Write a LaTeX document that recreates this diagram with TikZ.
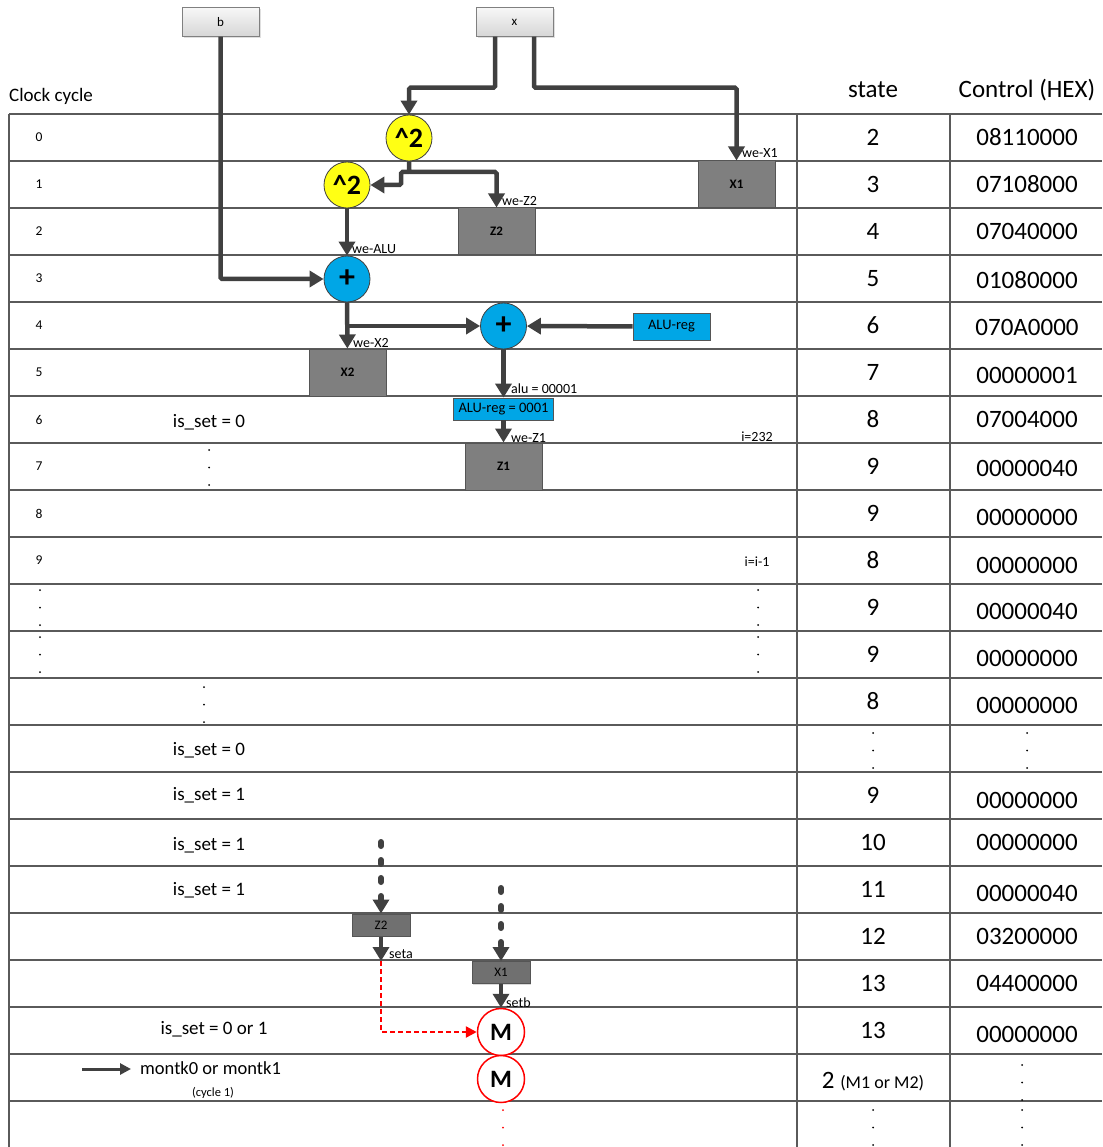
\documentclass[tikz,border=0pt]{standalone}
\usepackage{fontspec}
\setmainfont{Carlito}
\usetikzlibrary{arrows.meta,shadows}

\definecolor{busgray}{HTML}{404040}
\definecolor{gridgray}{HTML}{5A5A5A}
\definecolor{reggray}{HTML}{7F7F7F}
\definecolor{regedge}{HTML}{555555}
\definecolor{alublue}{HTML}{00A6E6}
\definecolor{sqyellow}{HTML}{FFFF14}

\tikzset{
  grid/.style={draw=gridgray,line width=1.3pt},
  bus/.style={draw=busgray,line width=4.5pt,rounded corners=1.5pt,
    -{Triangle[length=14pt,width=16pt]}},
  feed/.style={draw=busgray,line width=6pt,line cap=round,dash pattern=on 4pt off 14pt,
    -{Triangle[length=14pt,width=16pt]}},
  reddash/.style={draw=red,line width=2.5pt,dash pattern=on 5pt off 3pt,
    -{Triangle[length=11pt,width=11pt]}},
  thinbus/.style={draw=busgray,line width=3pt,-{Triangle[length=11pt,width=11pt]}},
  big/.style={inner sep=0pt,font=\fontsize{25}{28}\selectfont},
  mid/.style={inner sep=0pt,font=\fontsize{19}{22}\selectfont},
  cyc/.style={inner sep=0pt,font=\fontsize{13.5}{15}\selectfont},
  lbl/.style={inner sep=0pt,anchor=west,font=\fontsize{14}{16}\selectfont},
  sq/.style={circle,minimum size=46pt,inner sep=0pt,draw=busgray,line width=0.8pt,
    fill=sqyellow,font=\bfseries\fontsize{28}{30}\selectfont},
  add/.style={circle,minimum size=46pt,inner sep=0pt,draw=busgray,line width=0.8pt,
    fill=alublue,font=\bfseries\fontsize{32}{32}\selectfont},
  mop/.style={circle,minimum size=47pt,inner sep=0pt,draw=red,line width=1.5pt,
    fill=white,font=\bfseries\fontsize{25}{26}\selectfont},
  reg/.style={draw=regedge,fill=reggray,line width=1pt,minimum width=77pt,minimum height=47pt,
    inner sep=0pt,font=\bfseries\fontsize{13}{14}\selectfont},
  smallreg/.style={draw=regedge,fill=reggray!88!black,line width=1pt,minimum width=58pt,
    minimum height=22pt,inner sep=0pt,font=\fontsize{13}{14}\selectfont,
    drop shadow={shadow xshift=1pt,shadow yshift=-1pt,opacity=.3}},
  inbox/.style={draw=gray,top color=gray!6,bottom color=gray!32,minimum width=77pt,
    minimum height=29pt,inner sep=0pt,font=\fontsize{13}{14}\selectfont,
    drop shadow={shadow xshift=1.5pt,shadow yshift=-1.5pt,opacity=.25}},
  alureg/.style={draw=regedge,fill=alublue,line width=0.8pt,inner sep=0pt,
    font=\fontsize{14.5}{16}\selectfont},
}
% three dots stacked downwards from (x,y)
\newcommand\dotcol[3][black]{\foreach \dy in {0,17.5,35} \fill[#1] (#2,{#3+\dy}) circle (1pt);}

\begin{document}
\begin{tikzpicture}[x=1pt,y=-1pt]
\useasboundingbox (0,0) rectangle (1102,1147);

% rows and columns
\foreach \k in {0,...,21}
  \draw[grid] (9,{114+47*\k}) -- (1102,{114+47*\k});
\draw[grid] (9,114) -- (9,1147);
\draw[grid] (797,114) -- (797,1147);
\draw[grid] (950,114) -- (950,1147);

\node[mid,anchor=west] (hclock) at (9,96) {Clock cycle};
\node[big] (hstate) at (873,90) {state};
\node[big] (hctrl) at (1027,90) {Control (HEX)};

\foreach \k in {0,...,9}
  \node[cyc] (cc\k) at (39,{137.5+47*\k}) {\k};

\foreach \k/\s in {0/2,1/3,2/4,3/5,4/6,5/7,6/8,7/9,8/9,9/8,10/9,11/9,12/8,14/9,15/10,16/11,17/12,18/13,19/13}
  \node[big] (st\k) at (873,{137.5+47*\k}) {\s};
\foreach \k/\c/\d in {0/08110000/0,1/07108000/0,2/07040000/0,3/01080000/2,4/070A0000/1.5,
    5/00000001/2.5,6/07004000/0,7/00000040/1.5,8/00000000/4,9/00000000/5,10/00000040/3.5,
    11/00000000/4,12/00000000/3.5,14/00000000/4.5,15/00000000/0,16/00000040/3.5,
    17/03200000/0,18/04400000/0,19/00000000/4}
  \node[big] (ct\k) at (1027,{137.5+47*\k+\d}) {\c};
\node[big] (st20) at (873,1082) {2 {\fontsize{18}{20}\selectfont(M1 or M2)}};

% inputs
\node[inbox] (bin) at (220.5,22) {b};
\node[inbox] (xin) at (514.5,22) {x};

% datapath
\node[sq] (sq1) at (409,138) {\textasciicircum2};
\node[sq] (sq2) at (347,185) {\textasciicircum2};
\node[reg] (x1) at (736.5,184.5) {X1};
\node[reg] (z2) at (496.5,231.5) {Z2};
\node[add] (add1) at (347,279) {+};
\node[add] (add2) at (503.5,326) {+};
\node[alureg,minimum width=77pt,minimum height=27pt] (aluin) at (671.5,326.5) {ALU-reg};
\node[reg] (x2) at (347.5,372.5) {X2};
\node[alureg,minimum width=100pt,minimum height=22pt] (aluout) at (503.5,409) {ALU-reg = 0001};
\node[reg] (z1) at (503.5,466.5) {Z1};

\draw[bus] ([xshift=-19.5pt]xin.south) -- ++(0,51) -| (sq1);
\draw[bus] ([xshift=19.5pt]xin.south) -- ++(0,51) -| (x1);
\draw[bus] (bin) |- (add1);
\coordinate (j1) at (401,172);
\draw[bus] (sq1) -- ++(0,34) -| (z2);
\draw[bus] (sq1 |- j1) -- (j1) |- (sq2);
\draw[bus] (sq2) -- (add1);
\draw[bus] (add1) -- (x2);
\draw[bus] (add1 |- add2) -- (add2);
\draw[bus] (aluin) -- (add2);
\draw[bus] (add2) -- (aluout);
\draw[bus] (aluout) -- (z1);

\node[lbl] (wex1) at (742,153) {we-X1};
\node[lbl] (wez2) at (502,201) {we-Z2};
\node[lbl] (wealu) at (352,249) {we-ALU};
\node[lbl] (wex2) at (353,343) {we-X2};
\node[lbl] (alu) at (511,389) {alu = 00001};
\node[lbl] (wez1) at (511,438) {we-Z1};
\node[lbl,anchor=center] (icount) at (757,437) {i=232};
\node[lbl,anchor=center] (idec) at (757,562) {i=i-1};

% loop notes
\node[mid] (set0a) at (209,422) {is\_set = 0};
\node[mid] (set0b) at (209,750) {is\_set = 0};
\node[mid] (set1a) at (209,795) {is\_set = 1};
\node[mid] (set1b) at (209,845) {is\_set = 1};
\node[mid] (set1c) at (209,890) {is\_set = 1};
\node[mid] (set01) at (214,1029) {is\_set = 0 or 1};

\dotcol{209}{450}
\dotcol{40}{590}
\dotcol{40}{637}
\dotcol{758}{590}
\dotcol{758}{637}
\dotcol{204}{687}
\dotcol{873}{733}
\dotcol{1027}{733}
\dotcol{1022}{1065}
\dotcol{873}{1110}
\dotcol{1022}{1110}

% final step
\node[smallreg] (z2s) at (381,925) {Z2};
\node[smallreg] (x1s) at (501,972.5) {X1};
\node[mop] (m1) at (501,1032) {M};
\node[mop] (m2) at (501,1079) {M};
\coordinate (z2feed) at (381,842);
\coordinate (x1feed) at (501,888);
\coordinate (seta) at (381,961);
\draw[feed] (z2feed) -- (z2s);
\draw[feed] (x1feed) -- (x1s);
\draw[bus] (z2s) -- (seta);
\draw[reddash] (seta) |- (m1);
\draw[bus] (x1s) -- (m1);
\node[lbl] (lseta) at (389,954) {seta};
\node[lbl] (lsetb) at (506,1003) {setb};
\dotcol[red]{503}{1110}

\coordinate (mk) at (82,1069);
\node[mid,anchor=west,font=\fontsize{18.5}{20}\selectfont] (montk) at (140,1068) {montk0 or montk1};
\draw[thinbus,shorten >=9pt] (mk) -- (mk -| montk.west);
\node[inner sep=0pt,font=\fontsize{12.5}{14}\selectfont] (cyc1) at (213,1093) {(cycle 1)};

\end{tikzpicture}
\end{document}
